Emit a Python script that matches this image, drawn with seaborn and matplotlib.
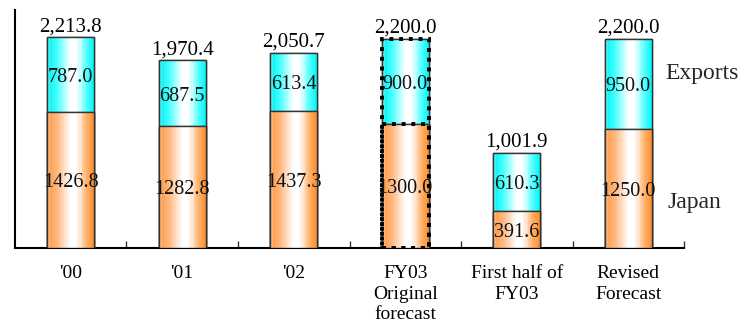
import numpy as np
import pandas as pd
import matplotlib
matplotlib.use("Agg")
import matplotlib.pyplot as plt
from matplotlib.colors import LinearSegmentedColormap
import seaborn as sns

# Sales volume by period (domestic + exports)
categories = ["'00", "'01", "'02", "FY03\nOriginal\nforecast", "First half of\nFY03", "Revised\nForecast"]
japan = [1426.8, 1282.8, 1437.3, 1300.0, 391.6, 1250.0]
exports = [787.0, 687.5, 613.4, 900.0, 610.3, 950.0]
totals = [2213.8, 1970.4, 2050.7, 2200.0, 1001.9, 2200.0]
total_labels = ["2,213.8", "1,970.4", "2,050.7", "2,200.0", "1,001.9", "2,200.0"]
forecast_index = 3

df = pd.DataFrame({"category": categories, "japan": japan, "exports": exports, "total": totals})

sns.set_theme(style="white")
plt.rcParams["font.family"] = ["Liberation Serif", "DejaVu Serif"]

fig = plt.figure(figsize=(7.41, 3.25), dpi=100)
ax = fig.add_axes([0.0202, 0.237, 0.903, 0.732])

bar_w = 0.42
sns.barplot(data=df, x="category", y="total", color="#00FFFF", width=bar_w,
            edgecolor="#333333", linewidth=1.0, saturation=1, ax=ax, zorder=2)
n_top = len(ax.patches)
sns.barplot(data=df, x="category", y="japan", color="#FF9933", width=bar_w,
            edgecolor="#333333", linewidth=1.0, saturation=1, ax=ax, zorder=3)
top_bars = ax.patches[:n_top]
low_bars = ax.patches[n_top:]


def shade(stops):
    cmap = LinearSegmentedColormap.from_list("s", stops)
    xs = np.linspace(0, 1, 200)
    rgba = cmap(xs)
    for c in (0.04, 0.72):
        k = int(c * 199)
        rgba[k:k + 2, :3] = 1.0
    return rgba[np.newaxis, :, :]


orange_img = shade([(0.0, "#FF9A45"), (0.2, "#FFB57A"), (0.5, "#FFFFFF"),
                    (0.62, "#FFFFFF"), (0.85, "#FFB06A"), (1.0, "#FF8C2A")])
cyan_img = shade([(0.0, "#00F0F0"), (0.2, "#40FFFF"), (0.5, "#FFFFFF"),
                  (0.62, "#FFFFFF"), (0.85, "#50FFFF"), (1.0, "#00F5F5")])

for bars, img, z in ((top_bars, cyan_img, 2.5), (low_bars, orange_img, 3.5)):
    for p in bars:
        x0, y0 = p.get_x(), p.get_y()
        im = ax.imshow(img, extent=[x0, x0 + p.get_width(), y0, y0 + p.get_height()],
                       aspect="auto", zorder=z, interpolation="bilinear")
        im.set_clip_path(p)
        # outline on top of the shading
        edge = plt.Rectangle((x0, y0), p.get_width(), p.get_height(), fill=False,
                             edgecolor="#333333", linewidth=1.0, zorder=z + 0.2)
        ax.add_patch(edge)

# dashed outline for the original forecast
for p in (top_bars[forecast_index], low_bars[forecast_index]):
    ax.add_patch(plt.Rectangle((p.get_x(), p.get_y()), p.get_width(), p.get_height(),
                               fill=False, edgecolor="black", linewidth=2.8,
                               linestyle=(0, (1.0, 1.5)), zorder=5))

# value labels
for i in range(len(categories)):
    ax.text(i, totals[i] + 12, total_labels[i], ha="center", va="bottom",
            fontsize=15, color="black", zorder=6)
    ax.text(i, japan[i] + exports[i] / 2 - 30, f"{exports[i]:.1f}", ha="center",
            va="center", fontsize=14.5, color="#111111", zorder=6)
    ax.text(i, japan[i] / 2 - 30, f"{japan[i]:.1f}", ha="center", va="center",
            fontsize=14.5, color="#111111", zorder=6)

ax.text(5.33, 1836, "Exports", ha="left", va="center", fontsize=17, clip_on=False)
ax.text(5.35, 483, "Japan", ha="left", va="center", fontsize=17, clip_on=False)

ax.set_xlim(-0.5, 5.5)
ax.set_ylim(0, 2500)
ax.set_xlabel("")
ax.set_ylabel("")
ax.set_yticks([])
ax.set_xticks(range(len(categories)))
ax.set_xticklabels(categories, fontsize=14)
for lbl in ax.get_xticklabels():
    lbl.set_linespacing(1.3)
ax.set_xticks(np.arange(0.5, 5.6, 1.0), minor=True)
ax.tick_params(axis="x", which="major", length=0, pad=12, colors="black")
ax.tick_params(axis="x", which="minor", direction="in", length=5, width=1, color="#333333",
               bottom=True)
for s in ("top", "right"):
    ax.spines[s].set_visible(False)
for s in ("left", "bottom"):
    ax.spines[s].set_color("black")
    ax.spines[s].set_linewidth(1.5)
ax.grid(False)

fig.savefig("out.png", dpi=100)
